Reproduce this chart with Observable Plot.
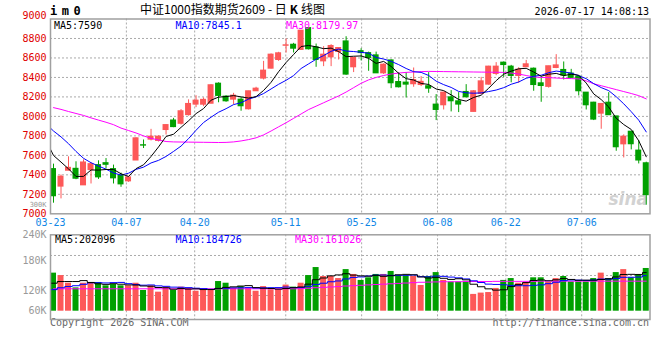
<!DOCTYPE html>
<html><head><meta charset="utf-8">
<script src="https://cdn.jsdelivr.net/npm/d3@7"></script>
<script src="https://cdn.jsdelivr.net/npm/@observablehq/plot@0.6"></script>
<style>
body{margin:0;background:#fff;}
#wrap{position:relative;width:660px;height:360px;overflow:hidden;background:#fff;font-family:"DejaVu Sans Mono",monospace;}
.abs{position:absolute;white-space:nowrap;}
#sym{left:50px;top:5px;font:bold 12px/12px "DejaVu Sans Mono",monospace;letter-spacing:4.5px;color:#000;}
#title{left:140px;top:3px;font:12px/12px "Noto Sans CJK SC",sans-serif;color:#000;}
#title b{margin:0 3px;}
#time{right:11px;top:7px;font:10px/10px "DejaVu Sans Mono",monospace;color:#000;}
#copy{left:50px;top:318px;font:10px/10px "DejaVu Sans Mono",monospace;color:#666;}
#url{right:11px;top:318px;font:10px/10px "DejaVu Sans Mono",monospace;color:#666;}
</style></head><body><div id="wrap">
<div class="abs" id="sym">im0</div>
<div class="abs" id="title">中证1000指数期货2609 - 日<b>K</b>线图</div>
<div class="abs" id="time">2026-07-17 14:08:13</div>
<div class="abs" id="copy">Copyright 2026 SINA.COM</div>
<div class="abs" id="url">http://finance.sina.com.cn</div>
</div>
<script>
// ---------------- data ----------------
const dates = ["03-23","03-24","03-25","03-26","03-27","03-30","03-31","04-01","04-02","04-03",
"04-07","04-08","04-09","04-10","04-13","04-14","04-15","04-16","04-17","04-20",
"04-21","04-22","04-23","04-24","04-27","04-28","04-29","04-30","05-06","05-07",
"05-08","05-11","05-12","05-13","05-14","05-15","05-18","05-19","05-20","05-21",
"05-22","05-25","05-26","05-27","05-28","05-29","06-01","06-02","06-03","06-04",
"06-05","06-08","06-09","06-10","06-11","06-12","06-15","06-16","06-17","06-18",
"06-22","06-23","06-24","06-25","06-26","06-29","06-30","07-01","07-02","07-03",
"07-06","07-07","07-08","07-09","07-10","07-13","07-14","07-15","07-16","07-17"];
const open = [7459,7279,7442,7462,7292,7449,7500,7520,7459,7394,
7333,7547,7704,7761,7748,7860,7958,7924,8013,8121,
8120,8130,8336,8203,8172,8172,8073,8258,8388,8490,
8579,8725,8736,8682,8907,8709,8565,8606,8661,8770,
8504,8670,8650,8627,8442,8575,8353,8347,8330,8322,
8310,8121,8114,8196,8155,8251,8046,8230,8326,8436,
8552,8511,8415,8505,8490,8340,8303,8497,8477,8440,
8408,8244,8141,8028,8141,8000,7713,7843,7649,7519];
const high = [7510,7398,7585,7534,7554,7523,7544,7567,7500,7418,
7384,7780,7758,7867,7800,7915,7980,8070,8170,8212,
8190,8326,8345,8213,8237,8196,8258,8299,8565,8641,
8658,8795,8750,8880,8907,8743,8716,8736,8702,8818,
8600,8695,8660,8660,8540,8580,8449,8449,8497,8408,
8449,8224,8250,8265,8244,8326,8265,8401,8515,8552,
8559,8524,8500,8575,8497,8408,8515,8634,8559,8483,
8408,8244,8145,8128,8244,8000,7810,7843,7752,7530];
const low = [7109,7153,7442,7350,7292,7306,7353,7459,7306,7272,
7323,7547,7670,7748,7737,7809,7884,7911,8003,8090,
8100,8130,8140,8145,8121,8053,8066,8258,8374,8487,
8565,8651,8651,8682,8682,8504,8511,8511,8579,8422,
8450,8570,8463,8442,8430,8285,8292,8189,8299,8306,
8237,7957,8066,8046,8039,8189,8046,8230,8320,8418,
8400,8345,8340,8500,8258,8145,8290,8490,8374,8390,
8210,8066,7957,7868,8012,7642,7574,7656,7512,7088];
const close = [7180,7381,7472,7360,7527,7510,7374,7503,7364,7302,
7374,7775,7700,7792,7792,7911,7890,8053,8128,8162,
8170,8320,8210,8155,8213,8104,8258,8285,8470,8634,
8648,8730,8695,8880,8689,8579,8634,8723,8702,8429,
8600,8650,8600,8442,8531,8340,8299,8326,8374,8355,
8285,8066,8244,8155,8121,8196,8258,8360,8511,8511,
8527,8415,8480,8535,8322,8312,8515,8524,8420,8395,
8258,8114,7967,8128,8012,7683,7792,7714,7547,7191];
// closes of the nine sessions before 03-23 (seed the moving averages)
const priorClose = [7981,8172,8160,8227,7965,7721,7817,7755,7522];
// 30-day moving average of price
const ma30 = [8090,8072,8050,8030,8010,7985,7962,7940,7915,7880,
7855,7830,7800,7775,7758,7742,7738,7737,7736,7735,
7734,7733,7732,7733,7738,7748,7762,7780,7810,7850,
7893,7935,7980,8025,8070,8105,8140,8175,8210,8250,
8295,8340,8375,8400,8420,8435,8445,8452,8456,8460,
8462,8461,8460,8459,8458,8457,8456,8455,8454,8453,
8452,8445,8435,8420,8405,8400,8398,8394,8390,8388,
8385,8365,8335,8315,8295,8275,8255,8235,8213,8180];
const volume = [204000,191000,150000,125000,150000,154000,154000,136000,143000,136000,
136000,150000,111000,136000,102000,129000,111000,129000,122000,107000,
111000,111000,159000,150000,122000,132000,122000,107000,132000,115000,
115000,140000,129000,150000,191000,234000,186000,186000,175000,223000,
197000,165000,179000,197000,197000,213000,190000,190000,186000,138000,
186000,207000,165000,156000,156000,156000,90000,97000,100000,122000,
165000,175000,150000,154000,179000,179000,154000,175000,186000,157000,
157000,157000,175000,204000,175000,207000,223000,179000,197000,229000];
const priorVolume = [90000,85000,80000,75000,75000,146000,150000,125000,125000];
const volMa30 = [120000,120000,120000,120000,120000,120000,120000,120000,120000,120000,
120000,120000,120000,120000,120000,120000,120000,120000,120000,120000,
120000,120000,120000,120000,120000,120000,120000,120000,120000,120000,
120000,120000,120000,121000,123000,126000,128000,130000,132000,135000,
137000,139000,141000,143000,145000,147000,149000,151000,153000,155000,
156000,157000,158000,158000,158000,159000,159000,159000,159000,160000,
160000,160000,160000,160000,160000,161000,161000,161000,161000,161000,
161000,161000,161000,161000,161000,161000,161000,161000,161000,161000];
const xLabels = ["03-23","04-07","04-20","05-11","05-25","06-08","06-22","07-06"];
const priceTicks = [9000,8800,8600,8400,8200,8000,7800,7600,7400,7200,7000];
const priceGrid = [8800,8600,8400,8200,8000,7800,7600,7400,7200];
const volTickLabels = ["300K","240K","180K","120K","60K"];
const volTickValues = [573000,411000,268000,107200,3750];
const volGrid = [84200,191400,298600];
const priceLegend = ["MA5:7590","MA10:7845.1","MA30:8179.97"];
const volLegend = ["MA5:202096","MA10:184726","MA30:161026"];

// ---------------- build ----------------
const RED = "#fd5858", GREEN = "#00a000", GRID = "#aaa", FRAME = "#a0a0a0";
const MONO = "DejaVu Sans Mono, monospace";
const rows = dates.map((d, i) => ({i, date: d, open: open[i], high: high[i], low: low[i], close: close[i],
  volume: volume[i], ma30: ma30[i], volMa30: volMa30[i],
  col: close[i] >= open[i] ? RED : GREEN}));
const closeSeries = priorClose.map((c, k) => ({i: k - priorClose.length, close: c}))
  .concat(rows.map(r => ({i: r.i, close: r.close})));
const volSeries = priorVolume.map((v, k) => ({i: k - priorVolume.length, volume: v}))
  .concat(rows.map(r => ({i: r.i, volume: r.volume})));

const X0 = -0.4, X1 = 79.5;
// sina places its date grid on an index/(n-1) spacing across the frame
const gridPos = i => X0 + i * (X1 - X0) / (dates.length - 1);
const labelPos = xLabels.map(l => gridPos(dates.indexOf(l)));
const labelMap = new Map(labelPos.map((p, k) => [p, xLabels[k]]));
const volTickMap = new Map(volTickValues.map((v, k) => [v, volTickLabels[k]]));
const dotted = {stroke: GRID, strokeDasharray: "2,2", strokeWidth: 1};
const yAxisOpts = {anchor: "left", label: null, tickSize: 0, tickPadding: 4, tickFormat: d => String(d), color: "#e00000"};
const vAxisOpts = {anchor: "left", label: null, tickSize: 0, tickPadding: 4, tickFormat: d => volTickMap.get(d), color: "#999"};

const pricePlot = Plot.plot({
  width: 660, height: 228,
  marginLeft: 50, marginRight: 10.5, marginTop: 18.5, marginBottom: 14.7,
  x: {type: "linear", domain: [X0, X1], axis: null, label: null},
  y: {domain: [7000, 9000], axis: null, label: null},
  color: {type: "identity"},
  style: {background: "none", overflow: "visible", fontFamily: MONO, fontSize: "10px"},
  marks: [
    Plot.ruleY(priceGrid, dotted),
    Plot.ruleX(labelPos.slice(1), dotted),
    Plot.text(["sina"], {frameAnchor: "bottom-right", dx: -2, dy: -9, fontSize: 17, fontStyle: "italic",
      fontWeight: "bold", fontFamily: "DejaVu Sans", fill: "#d2d2d2", textAnchor: "end"}),
    Plot.ruleX(rows, {x: "i", y1: "low", y2: "high", stroke: "col", strokeWidth: 1}),
    Plot.rect(rows, {x1: d => d.i - 0.4, x2: d => d.i + 0.4, y1: "open", y2: "close", fill: "col",
      insetTop: -0.5, insetBottom: -0.5}),
    Plot.lineY(rows, {x: "i", y: "ma30", stroke: "#ff00ff", strokeWidth: 1, clip: true}),
    Plot.lineY(closeSeries, Plot.windowY({k: 10, anchor: "end"}, {x: "i", y: "close", stroke: "#0000ff", strokeWidth: 1, clip: true})),
    Plot.lineY(closeSeries, Plot.windowY({k: 5, anchor: "end"}, {x: "i", y: "close", stroke: "#000", strokeWidth: 1, clip: true})),
    Plot.frame({stroke: FRAME, strokeWidth: 1.5}),
    Plot.axisY(priceTicks.slice(0, 1), {...yAxisOpts, dy: -3.5}),
    Plot.axisY(priceTicks.slice(1), yAxisOpts),
    Plot.axisX(labelPos, {anchor: "bottom", label: null, tickSize: 0, tickPadding: 5, tickFormat: d => labelMap.get(d), color: "#1187e6"}),
    Plot.text([priceLegend[0]], {frameAnchor: "top-left", dx: 3.5, dy: 2.5, lineAnchor: "top", textAnchor: "start", fill: "#000"}),
    Plot.text([priceLegend[1]], {frameAnchor: "top-left", dx: 125, dy: 2.5, lineAnchor: "top", textAnchor: "start", fill: "#0000ff"}),
    Plot.text([priceLegend[2]], {frameAnchor: "top-left", dx: 235.5, dy: 2.5, lineAnchor: "top", textAnchor: "start", fill: "#ff00ff"})
  ]
});

const volPlot = Plot.plot({
  width: 660, height: 138,
  marginLeft: 50, marginRight: 10.5, marginTop: 44.3, marginBottom: 9,
  x: {type: "linear", domain: [X0, X1], axis: null, label: null},
  y: {domain: [-44500, 409500], axis: null, label: null},
  color: {type: "identity"},
  style: {background: "none", overflow: "visible", fontFamily: MONO, fontSize: "10px"},
  marks: [
    Plot.ruleY(volGrid, dotted),
    Plot.ruleX(labelPos.slice(1), dotted),
    Plot.rect(rows, {x1: d => d.i - 0.4, x2: d => d.i + 0.4, y1: 0, y2: "volume", fill: "col"}),
    Plot.lineY(rows, {x: "i", y: "volMa30", stroke: "#ff00ff", strokeWidth: 1, curve: "step", clip: true}),
    Plot.lineY(volSeries, Plot.windowY({k: 10, anchor: "end"}, {x: "i", y: "volume", stroke: "#0000ff", strokeWidth: 1, curve: "step", clip: true})),
    Plot.lineY(volSeries, Plot.windowY({k: 5, anchor: "end"}, {x: "i", y: "volume", stroke: "#000", strokeWidth: 1, curve: "step", clip: true})),
    Plot.frame({stroke: FRAME, strokeWidth: 1.5}),
    Plot.axisY(volTickValues.slice(0, 1), {...vAxisOpts, fontSize: 7}),
    Plot.axisY(volTickValues.slice(1), vAxisOpts),
    Plot.text([volLegend[0]], {frameAnchor: "top-left", dx: 4.5, dy: 1, lineAnchor: "top", textAnchor: "start", fill: "#000"}),
    Plot.text([volLegend[1]], {frameAnchor: "top-left", dx: 125, dy: 1, lineAnchor: "top", textAnchor: "start", fill: "#0000ff"}),
    Plot.text([volLegend[2]], {frameAnchor: "top-left", dx: 244.5, dy: 1, lineAnchor: "top", textAnchor: "start", fill: "#ff00ff"})
  ]
});

const wrap = document.getElementById("wrap");
pricePlot.style.position = "absolute"; pricePlot.style.left = "0px"; pricePlot.style.top = "0px";
volPlot.style.position = "absolute"; volPlot.style.left = "0px"; volPlot.style.top = "190px";
wrap.appendChild(pricePlot);
wrap.appendChild(volPlot);
</script>
</body></html>
